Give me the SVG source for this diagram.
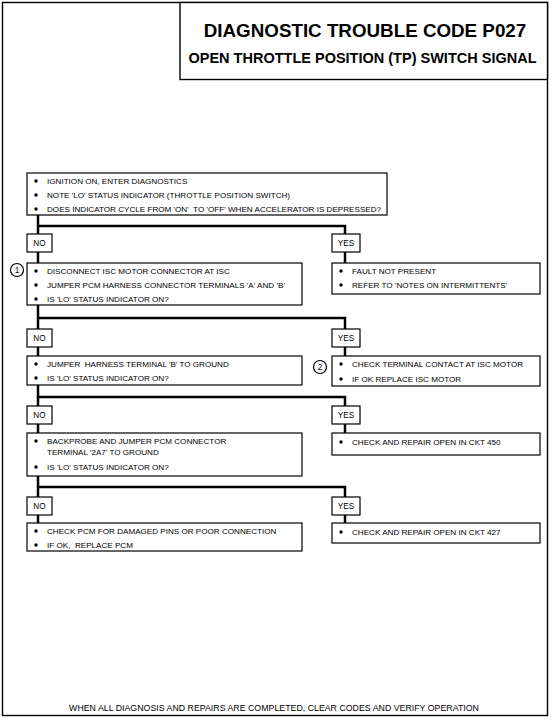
<svg xmlns="http://www.w3.org/2000/svg" width="552" height="720" viewBox="0 0 552 720">
<style>
.box{fill:#fff;stroke:#000;stroke-width:1.2}
.t{font-family:"Liberation Sans",Arial,sans-serif;font-size:8.1px;fill:#000;white-space:pre}
.lbl{font-family:"Liberation Sans",Arial,sans-serif;font-size:8.2px;fill:#000;text-anchor:middle}
.conn{fill:none;stroke:#000;stroke-width:2.5}
.num{fill:#fff;stroke:#000;stroke-width:1.2}
</style>
<defs>
<circle id="b" r="1.7" fill="#000"/>
</defs>
<rect x="0" y="0" width="552" height="720" fill="#fff"/>
<g id="frame">
<rect x="2.5" y="2.5" width="545" height="713" fill="none" stroke="#000" stroke-width="1.4"/>
</g>
<g id="title">
<rect x="180" y="2.5" width="367.5" height="77" fill="#fff" stroke="#000" stroke-width="1.4"/>
<text x="365" y="37" font-family="Liberation Sans,Arial,sans-serif" font-weight="bold" font-size="18.8" text-anchor="middle">DIAGNOSTIC TROUBLE CODE P027</text>
<text x="362.5" y="62.5" font-family="Liberation Sans,Arial,sans-serif" font-weight="bold" font-size="14.5" text-anchor="middle">OPEN THROTTLE POSITION (TP) SWITCH SIGNAL</text>
</g>
<g id="connectors">
<path class="conn" d="M38 215 V234 M38 226 H345 V234"/>
<path class="conn" d="M38 252 V263 M345 252 V263"/>
<path class="conn" d="M38 305 V329 M38 318 H345 V329"/>
<path class="conn" d="M38 347 V356 M345 347 V356"/>
<path class="conn" d="M38 385 V406 M38 397 H345 V406"/>
<path class="conn" d="M38 424 V433 M345 424 V433"/>
<path class="conn" d="M38 476 V497 M38 487 H345 V497"/>
<path class="conn" d="M38 515 V523 M345 515 V523"/>
</g>
<g id="n1">
<rect class="box" x="27" y="173" width="360" height="42"/>
<use href="#b" x="36" y="181"/><text class="t" x="47" y="184">IGNITION ON, ENTER DIAGNOSTICS</text>
<use href="#b" x="36" y="195"/><text class="t" x="47" y="198">NOTE 'LO' STATUS INDICATOR (THROTTLE POSITION SWITCH)</text>
<use href="#b" x="36" y="209"/><text class="t" x="47" y="212">DOES INDICATOR CYCLE FROM 'ON'  TO 'OFF' WHEN ACCELERATOR IS DEPRESSED?</text>
</g>
<g id="no1"><rect class="box" x="27" y="234" width="25" height="18"/><text class="lbl" x="39.5" y="246">NO</text></g>
<g id="yes1"><rect class="box" x="332" y="234" width="28" height="18"/><text class="lbl" x="346" y="246">YES</text></g>
<g id="n2">
<circle class="num" cx="17" cy="270" r="6.5"/><text class="lbl" x="17" y="273">1</text>
<rect class="box" x="27" y="263" width="275" height="42"/>
<use href="#b" x="36" y="271"/><text class="t" x="47" y="274">DISCONNECT ISC MOTOR CONNECTOR AT ISC</text>
<use href="#b" x="36" y="285"/><text class="t" x="47" y="288">JUMPER PCM HARNESS CONNECTOR TERMINALS 'A' AND 'B'</text>
<use href="#b" x="36" y="299"/><text class="t" x="47" y="302">IS 'LO' STATUS INDICATOR ON?</text>
</g>
<g id="r1">
<rect class="box" x="332" y="263" width="208" height="31"/>
<use href="#b" x="341" y="271"/><text class="t" x="352" y="274">FAULT NOT PRESENT</text>
<use href="#b" x="341" y="285"/><text class="t" x="352" y="288">REFER TO 'NOTES ON INTERMITTENTS'</text>
</g>
<g id="no2"><rect class="box" x="27" y="329" width="25" height="18"/><text class="lbl" x="39.5" y="341">NO</text></g>
<g id="yes2"><rect class="box" x="332" y="329" width="28" height="18"/><text class="lbl" x="346" y="341">YES</text></g>
<g id="n3">
<rect class="box" x="27" y="356" width="275" height="29"/>
<use href="#b" x="36" y="364"/><text class="t" x="47" y="367">JUMPER  HARNESS TERMINAL 'B' TO GROUND</text>
<use href="#b" x="36" y="378"/><text class="t" x="47" y="381">IS 'LO' STATUS INDICATOR ON?</text>
</g>
<g id="r2">
<circle class="num" cx="320" cy="367" r="6.5"/><text class="lbl" x="320" y="370">2</text>
<rect class="box" x="332" y="356" width="208" height="30"/>
<use href="#b" x="341" y="364"/><text class="t" x="352" y="367">CHECK TERMINAL CONTACT AT ISC MOTOR</text>
<use href="#b" x="341" y="379"/><text class="t" x="352" y="382">IF OK REPLACE ISC MOTOR</text>
</g>
<g id="no3"><rect class="box" x="27" y="406" width="25" height="18"/><text class="lbl" x="39.5" y="418">NO</text></g>
<g id="yes3"><rect class="box" x="332" y="406" width="28" height="18"/><text class="lbl" x="346" y="418">YES</text></g>
<g id="n4">
<rect class="box" x="27" y="433" width="275" height="43"/>
<use href="#b" x="36" y="441"/><text class="t" x="47" y="444">BACKPROBE AND JUMPER PCM CONNECTOR</text>
<text class="t" x="47" y="455">TERMINAL '2A7' TO GROUND</text>
<use href="#b" x="36" y="467"/><text class="t" x="47" y="470">IS 'LO' STATUS INDICATOR ON?</text>
</g>
<g id="r3">
<rect class="box" x="332" y="433" width="208" height="22"/>
<use href="#b" x="341" y="442"/><text class="t" x="352" y="445">CHECK AND REPAIR OPEN IN CKT 450</text>
</g>
<g id="no4"><rect class="box" x="27" y="497" width="25" height="18"/><text class="lbl" x="39.5" y="509">NO</text></g>
<g id="yes4"><rect class="box" x="332" y="497" width="28" height="18"/><text class="lbl" x="346" y="509">YES</text></g>
<g id="n5">
<rect class="box" x="27" y="523" width="275" height="28"/>
<use href="#b" x="36" y="531"/><text class="t" x="47" y="534">CHECK PCM FOR DAMAGED PINS OR POOR CONNECTION</text>
<use href="#b" x="36" y="545"/><text class="t" x="47" y="548">IF OK,  REPLACE PCM</text>
</g>
<g id="r4">
<rect class="box" x="332" y="523" width="208" height="20"/>
<use href="#b" x="341" y="532"/><text class="t" x="352" y="535">CHECK AND REPAIR OPEN IN CKT 427</text>
</g>
<g id="footer">
<text class="lbl" x="274" y="711" style="font-size:8.8px">WHEN ALL DIAGNOSIS AND REPAIRS ARE COMPLETED, CLEAR CODES AND VERIFY OPERATION</text>
</g>
</svg>
